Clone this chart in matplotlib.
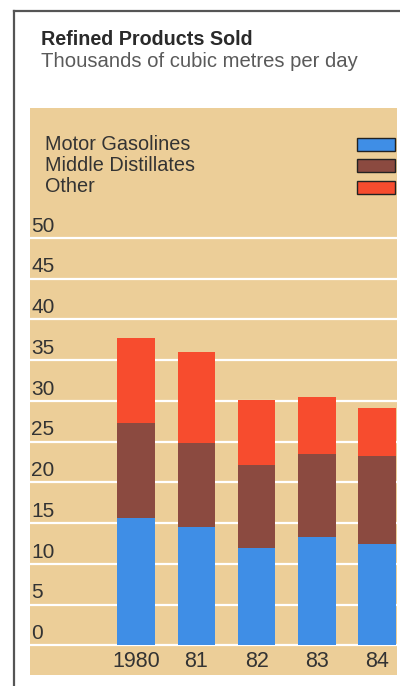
import matplotlib.pyplot as plt
from matplotlib.patches import Rectangle
from matplotlib.lines import Line2D

# thousands of m3 per day, by year
years = ["1980", "81", "82", "83", "84"]
categories = ["Motor Gasolines", "Middle Distillates", "Other"]
gasolines = [15.7, 14.6, 12.0, 13.3, 12.5]
distillates = [11.6, 10.2, 10.1, 10.2, 10.7]
other = [10.4, 11.2, 8.0, 7.0, 5.9]
yticks = list(range(0, 55, 5))

colors = ["#3f8ee6", "#8b4a40", "#f74c2e"]
panel = "#ecce98"
font = "Liberation Sans"

W, H = 400, 686
fig = plt.figure(figsize=(W / 100, H / 100), dpi=100)
fig.patch.set_facecolor("white")

def fx(px):
    return px / W

def fy(py):
    return 1 - py / H

# outer frame, top and left edges only
fig.add_artist(Line2D([fx(14), fx(14)], [fy(11), 0], transform=fig.transFigure,
                      color="#555555", lw=1.6))
fig.add_artist(Line2D([fx(14), 1], [fy(11), fy(11)], transform=fig.transFigure,
                      color="#555555", lw=1.6))

fig.text(fx(41), fy(45), "Refined Products Sold", fontsize=14.2, fontweight="bold",
         family=font, color="#2a2a2a", va="baseline")
fig.text(fx(41), fy(67), "Thousands of cubic metres per day", fontsize=14.6,
         family=font, color="#5a5a5a", va="baseline")

ax = fig.add_axes([fx(30), fy(675), fx(397) - fx(30), fy(108) - fy(675)])
ax.set_facecolor(panel)
for s in ax.spines.values():
    s.set_visible(False)
ax.set_xticks([])
ax.set_yticks([])
ax.set_xlim(-1.76, 4.33)
ax.set_ylim(-3.62, 65.95)

for v in yticks:
    ax.axhline(v, color="white", lw=1.6, zorder=1)
    ax.text(0.004, v + 0.3, str(v), transform=ax.get_yaxis_transform(),
            fontsize=15, family=font, color="#333333", va="bottom", ha="left")

x = list(range(len(years)))
bottom = [0] * len(years)
for vals, c in zip([gasolines, distillates, other], colors):
    ax.bar(x, vals, bottom=bottom, width=0.62, color=c, zorder=2)
    bottom = [b + v for b, v in zip(bottom, vals)]

for xi, lab in zip(x, years):
    ax.text(xi, -2.0, lab, fontsize=15.5, family=font, color="#333333",
            ha="center", va="center")

# legend: labels on the left, swatches on the right
for i, (name, c) in enumerate(zip(categories, colors)):
    yc = 144 + i * 21.5
    fig.text(fx(45), fy(yc), name, fontsize=14.3, family=font, color="#333333",
             va="center", ha="left")
    fig.add_artist(Rectangle((fx(357), fy(yc + 6.5)), fx(38), 13 / H,
                             transform=fig.transFigure, facecolor=c,
                             edgecolor="#222222", lw=1.0))

fig.savefig("out.png", dpi=100)
